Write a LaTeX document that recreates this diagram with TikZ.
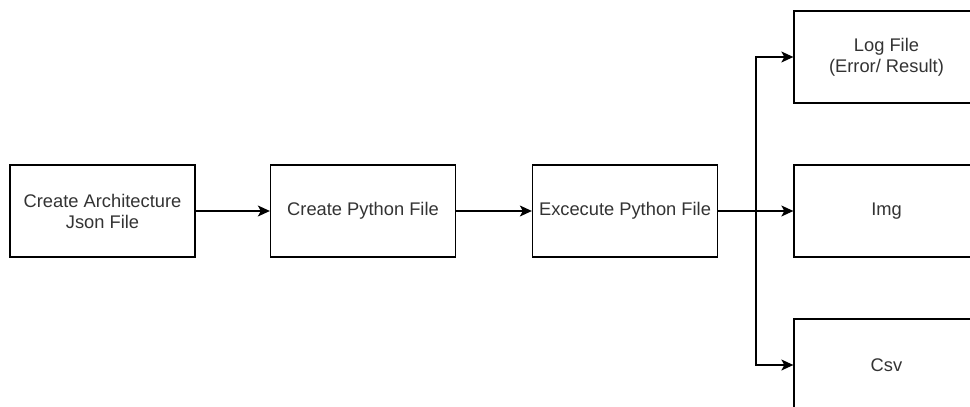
\documentclass[tikz,border=0pt]{standalone}
\usepackage{fontspec}
\setmainfont{Liberation Sans}
\usepackage{xcolor}
\usetikzlibrary{arrows.meta}
\definecolor{line}{HTML}{000000}
\definecolor{label}{HTML}{333333}
\tikzset{
  box/.style={draw=line, line width=1.3pt, fill=white, minimum width=185pt, minimum height=92pt,
    inner sep=0pt, align=center, text=label, font=\fontsize{18.3}{21}\selectfont},
  arr/.style={-{Stealth[length=12pt, width=11pt, inset=3pt]}, line width=1.3pt, draw=line}
}
\begin{document}
\begin{tikzpicture}[x=1pt, y=-1pt]
  \useasboundingbox (0,0) rectangle (970,407);
  \clip (0,0) rectangle (970,407);
  % main row
  \node[box] (json)   at (102.5,211) {Create Architecture\\Json File};
  \node[box] (pyfile) at (363,211)   {Create Python File};
  \node[box] (exec)   at (625,211)   {Excecute Python File};
  % outputs
  \node[box] (log) at (886.5,57)  {Log File\\(Error/ Result)};
  \node[box] (img) at (886.5,211) {Img};
  \node[box] (csv) at (886.5,365) {Csv};
  \coordinate (split) at (756,211);
  % connectors
  \draw[arr] (json) -- (pyfile);
  \draw[arr] (pyfile) -- (exec);
  \draw[arr] (exec) -- (img);
  \draw[arr] (split) |- (log);
  \draw[arr] (split) |- (csv);
\end{tikzpicture}
\end{document}
